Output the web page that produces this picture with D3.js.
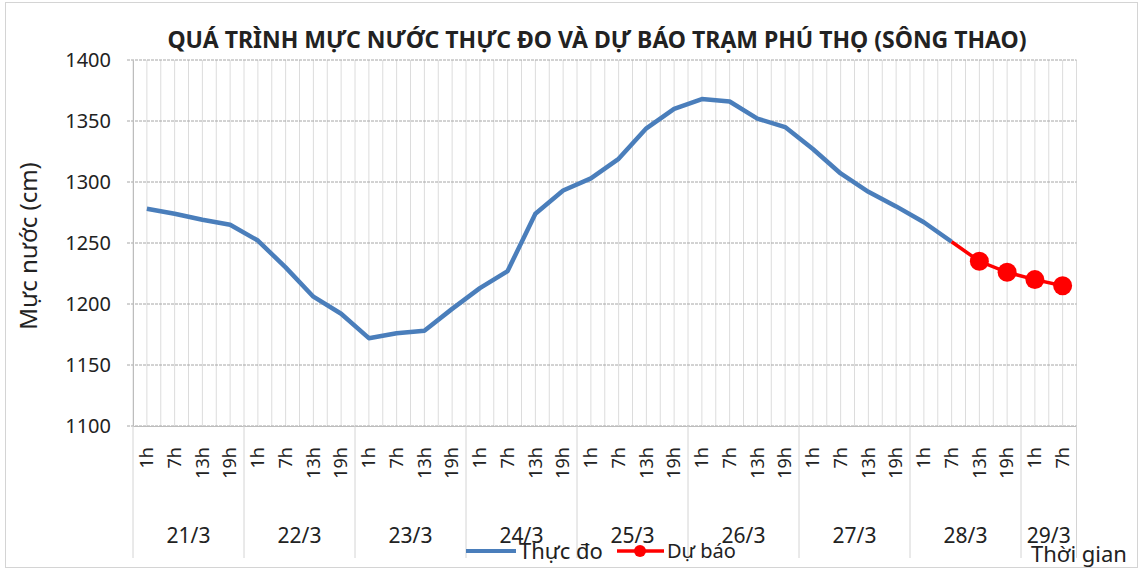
<!DOCTYPE html>
<html>
<head>
<meta charset="utf-8">
<script src="https://cdn.jsdelivr.net/npm/d3@7"></script>
<style>
  body { margin: 0; background: #fff; }
  text { font-family: "Noto Sans", "Open Sans", sans-serif; fill: #222; }
</style>
</head>
<body>
<div id="chart"></div>
<script>
// data
var days = ["21/3", "22/3", "23/3", "24/3", "25/3", "26/3", "27/3", "28/3", "29/3"];
var hoursPerDay = [["1h", "7h", "13h", "19h"], ["1h", "7h", "13h", "19h"], ["1h", "7h", "13h", "19h"],
    ["1h", "7h", "13h", "19h"], ["1h", "7h", "13h", "19h"], ["1h", "7h", "13h", "19h"],
    ["1h", "7h", "13h", "19h"], ["1h", "7h", "13h", "19h"], ["1h", "7h"]];
var observed = [1278, 1274, 1269, 1265, 1252, 1230, 1206, 1192, 1172, 1176, 1178, 1196, 1213, 1227,
    1274, 1293, 1303, 1319, 1344, 1360, 1368, 1366, 1352, 1345, 1327, 1307, 1292, 1280, 1267, 1251];
var forecastStart = 29; // index where forecast line begins (last observed)
var forecast = [1251, 1235, 1226, 1220, 1215];
var yTicks = [1100, 1150, 1200, 1250, 1300, 1350, 1400];

// build category list
var cats = [];
days.forEach(function (d, di) {
    hoursPerDay[di].forEach(function (h) {
        cats.push({ key: d + "-" + h, day: d, hour: h });
    });
});

var width = 1142, height = 571;
var mLeft = 133, mRight = 1076.5, mTop = 60, mBottom = 426;

var svg = d3.select("#chart").append("svg")
    .attr("width", width)
    .attr("height", height);

// outer border
svg.append("rect")
    .attr("x", 5.5).attr("y", 2.5)
    .attr("width", 1132).attr("height", 565)
    .attr("fill", "none").attr("stroke", "#d4d4d4");

var x = d3.scaleBand()
    .domain(cats.map(function (c) { return c.key; }))
    .range([mLeft, mRight]);
var bw = x.bandwidth();
var y = d3.scaleLinear().domain([1100, 1400]).range([mBottom, mTop]);

// vertical gridlines at every half category
var vLines = d3.range(0, cats.length * 2 + 1).map(function (k) { return mLeft + k * bw / 2; });
svg.append("g").selectAll("line")
    .data(vLines).enter().append("line")
    .attr("x1", function (d) { return d; }).attr("x2", function (d) { return d; })
    .attr("y1", mTop).attr("y2", mBottom)
    .attr("stroke", "#dcdcdc").attr("stroke-width", 1);

// horizontal gridlines
svg.append("g").selectAll("line")
    .data(yTicks).enter().append("line")
    .attr("x1", mLeft - 6).attr("x2", mRight)
    .attr("y1", function (d) { return y(d); }).attr("y2", function (d) { return y(d); })
    .attr("stroke", "#a6a6a6").attr("stroke-width", 1)
    .attr("stroke-dasharray", "3,1");

// y axis
var yAxis = svg.append("g")
    .attr("transform", "translate(" + mLeft + ",0)")
    .call(d3.axisLeft(y).tickValues(yTicks).tickFormat(d3.format("d")).tickSize(0).tickPadding(22));
yAxis.select(".domain").attr("stroke", "#bdbdbd");
yAxis.selectAll("text").style("font-size", "20px").attr("fill", "#222");

svg.append("text")
    .attr("transform", "translate(37," + 246 + ") rotate(-90)")
    .attr("text-anchor", "middle")
    .style("font-size", "24px")
    .text("Mực nước (cm)");

// x axis: hour labels
var xAxis = svg.append("g")
    .attr("transform", "translate(0," + mBottom + ")")
    .call(d3.axisBottom(x).tickSize(0).tickFormat(function (k) { return k.split("-")[1]; }));
xAxis.select(".domain").attr("stroke", "#bdbdbd");
xAxis.selectAll("text")
    .style("font-size", "18px")
    .attr("fill", "#222")
    .attr("text-anchor", "end")
    .attr("transform", "rotate(-90)")
    .attr("x", -21).attr("y", 0).attr("dy", "0.35em");

// day separators and labels
var dayStarts = [];
var idx = 0;
days.forEach(function (d, di) {
    dayStarts.push({ day: d, start: idx, end: idx + hoursPerDay[di].length });
    idx += hoursPerDay[di].length;
});
var sepX = dayStarts.map(function (d) { return x(cats[d.start].key); }).concat([mRight]);
svg.append("g").selectAll("line")
    .data(sepX).enter().append("line")
    .attr("x1", function (d) { return d; }).attr("x2", function (d) { return d; })
    .attr("y1", mBottom).attr("y2", 558)
    .attr("stroke", "#d4d4d4");
svg.append("g").selectAll("text")
    .data(dayStarts).enter().append("text")
    .attr("x", function (d) { return (x(cats[d.start].key) + x(cats[d.end - 1].key) + bw) / 2; })
    .attr("y", 543)
    .attr("text-anchor", "middle")
    .style("font-size", "21px")
    .text(function (d) { return d.day; });

// lines
var cx = function (i) { return x(cats[i].key) + bw / 2; };
var line = d3.line()
    .x(function (d) { return cx(d.i); })
    .y(function (d) { return y(d.v); });

var obsPts = observed.map(function (v, i) { return { i: i, v: v }; });
var fcPts = forecast.map(function (v, k) { return { i: forecastStart + k, v: v }; });

svg.append("path").datum(obsPts)
    .attr("d", line)
    .attr("fill", "none").attr("stroke", "#4a7ebb")
    .attr("stroke-width", 4.5).attr("stroke-linejoin", "round");

svg.append("path").datum(fcPts)
    .attr("d", line)
    .attr("fill", "none").attr("stroke", "#ff0000")
    .attr("stroke-width", 3.5);

svg.append("g").selectAll("circle")
    .data(fcPts.slice(1)).enter().append("circle")
    .attr("cx", function (d) { return cx(d.i); })
    .attr("cy", function (d) { return y(d.v); })
    .attr("r", 9.5)
    .attr("fill", "#ff0000");

// title
svg.append("text")
    .attr("x", 597).attr("y", 48)
    .attr("text-anchor", "middle")
    .style("font-size", "23px").style("font-weight", "bold")
    .text("QUÁ TRÌNH MỰC NƯỚC THỰC ĐO VÀ DỰ BÁO TRẠM PHÚ THỌ (SÔNG THAO)");

// legend
var lg = svg.append("g").attr("transform", "translate(0,551)");
lg.append("line").attr("x1", 466).attr("x2", 516).attr("y1", 0).attr("y2", 0)
    .attr("stroke", "#4a7ebb").attr("stroke-width", 4);
lg.append("text").attr("x", 519).attr("y", 8).style("font-size", "22px").text("Thực đo");
lg.append("line").attr("x1", 617).attr("x2", 664).attr("y1", 0).attr("y2", 0)
    .attr("stroke", "#ff0000").attr("stroke-width", 3.5);
lg.append("circle").attr("cx", 640).attr("cy", 0).attr("r", 6).attr("fill", "#ff0000");
lg.append("text").attr("x", 667).attr("y", 7).style("font-size", "20px").text("Dự báo");

svg.append("text")
    .attr("x", 1031).attr("y", 562)
    .style("font-size", "22px")
    .text("Thời gian");
</script>
</body>
</html>
